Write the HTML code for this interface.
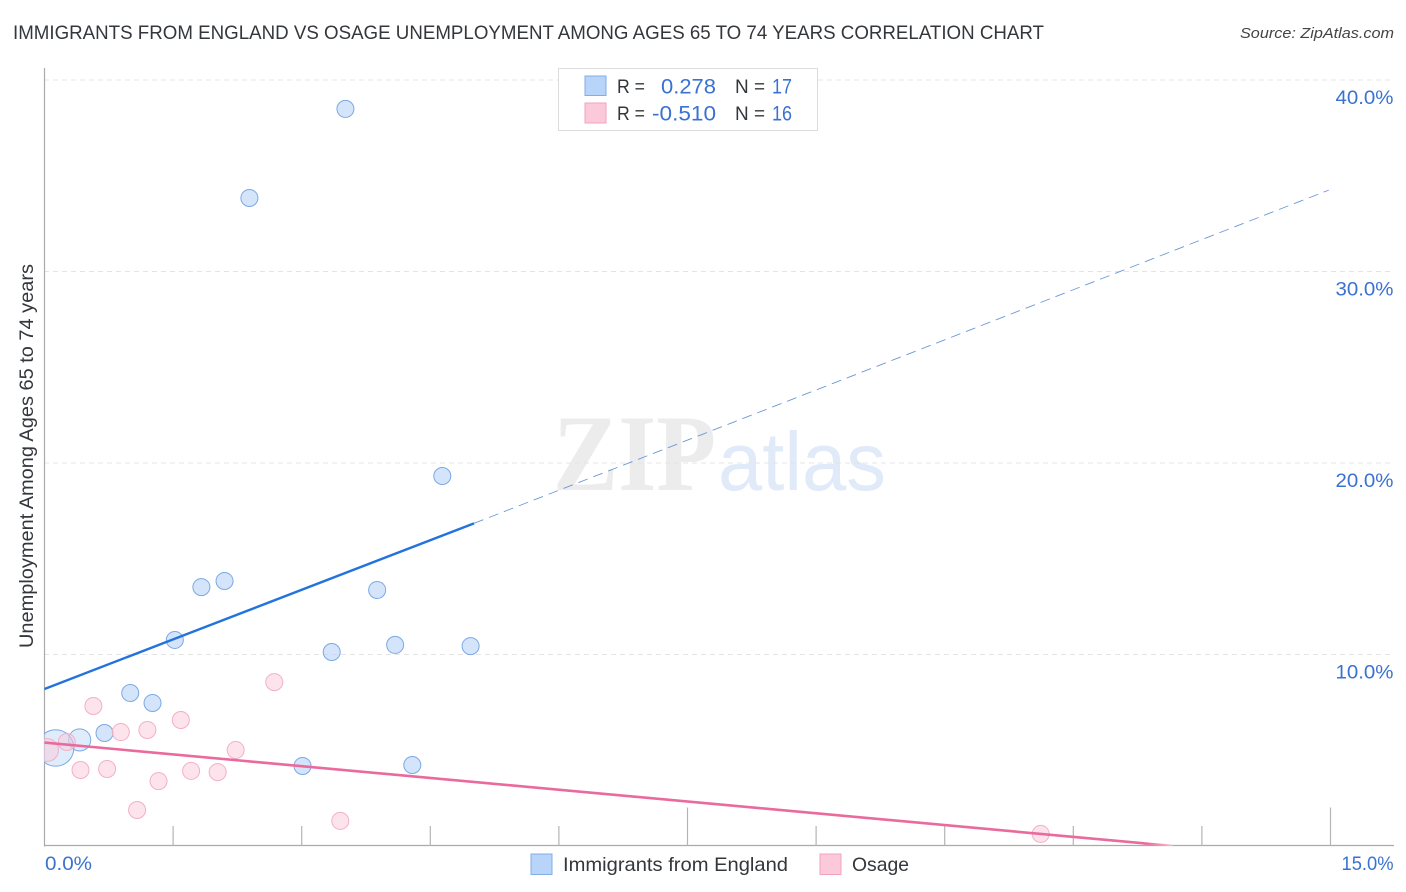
<!DOCTYPE html>
<html lang="en">
<head>
<meta charset="utf-8">
<title>Immigrants from England vs Osage Unemployment Correlation Chart</title>
<style>
html,body{margin:0;padding:0;background:#fff;}
svg{display:block;font-family:"Liberation Sans",sans-serif;}
</style>
</head>
<body>
<svg id="chart" width="1406" height="892" viewBox="0 0 1406 892" xmlns="http://www.w3.org/2000/svg">
  <defs>
    <clipPath id="plot-clip"><rect x="44" y="60" width="1350" height="786"/></clipPath>
    <linearGradient id="pink-fade" gradientUnits="userSpaceOnUse" x1="1040" y1="0" x2="1172" y2="0">
      <stop offset="0" stop-color="#e96a9b"/><stop offset="0.8" stop-color="#e96a9b"/><stop offset="1" stop-color="#f6b6cf"/>
    </linearGradient>
  </defs>
  <text x="13" y="39" font-size="19.5" fill="#33373b" textLength="1031" lengthAdjust="spacingAndGlyphs">IMMIGRANTS FROM ENGLAND VS OSAGE UNEMPLOYMENT AMONG AGES 65 TO 74 YEARS CORRELATION CHART</text>
  <text x="1394" y="38" font-size="15" font-style="italic" fill="#444" text-anchor="end" textLength="154" lengthAdjust="spacingAndGlyphs">Source: ZipAtlas.com</text>

  <g>
    <text x="553" y="490" font-family="'Liberation Serif',serif" font-weight="bold" font-size="109" fill="#ececec" textLength="163" lengthAdjust="spacingAndGlyphs">ZIP</text>
    <text x="718" y="490" font-family="'Liberation Sans',sans-serif" font-size="83" fill="#e0eaf8" textLength="168" lengthAdjust="spacingAndGlyphs">atlas</text>
  </g>

  <g id="grid"></g>
  <g id="axes"></g>
  <g id="points" clip-path="url(#plot-clip)"></g>
  <g id="trend" clip-path="url(#plot-clip)"></g>
  <g id="labels"></g>

  <text transform="translate(33,456) rotate(-90)" font-size="19" fill="#33373b" text-anchor="middle" textLength="384" lengthAdjust="spacingAndGlyphs">Unemployment Among Ages 65 to 74 years</text>

  <g>
    <rect x="558.5" y="68.5" width="259" height="62" fill="#fff" stroke="#dcdcdc" stroke-width="1"/>
    <rect x="585" y="76" width="21" height="19.5" fill="#b8d4f8" stroke="#7faee8"/>
    <rect x="585" y="103" width="21" height="20" fill="#fcc9da" stroke="#f0a3bd"/>
    <g font-size="19.5" fill="#33373b">
      <text x="617" y="93" textLength="28" lengthAdjust="spacingAndGlyphs">R =</text>
      <text x="617" y="120" textLength="28" lengthAdjust="spacingAndGlyphs">R =</text>
      <text x="735" y="93" textLength="30" lengthAdjust="spacingAndGlyphs">N =</text>
      <text x="735" y="120" textLength="30" lengthAdjust="spacingAndGlyphs">N =</text>
    </g>
    <g font-size="21.5" fill="#3a72d0">
      <text x="716" y="93.500" text-anchor="end" textLength="55" lengthAdjust="spacingAndGlyphs">0.278</text>
      <text x="716" y="120.500" text-anchor="end" textLength="64" lengthAdjust="spacingAndGlyphs">-0.510</text>
      <text x="772" y="93.500" textLength="20" lengthAdjust="spacingAndGlyphs">17</text>
      <text x="772" y="120.500" textLength="20" lengthAdjust="spacingAndGlyphs">16</text>
    </g>
  </g>

  <g>
    <rect x="531" y="854" width="21" height="20.500" fill="#b8d4f8" stroke="#7faee8"/>
    <text x="563" y="871" font-size="19.5" fill="#33373b" textLength="225" lengthAdjust="spacingAndGlyphs">Immigrants from England</text>
    <rect x="820" y="854" width="21" height="20.500" fill="#fcc9da" stroke="#f0a3bd"/>
    <text x="852" y="871" font-size="19.5" fill="#33373b" textLength="57" lengthAdjust="spacingAndGlyphs">Osage</text>
  </g>
</svg>
<script>
// Chart data
const englandX = [3.51, 2.39, 4.64, 2.10, 1.83, 3.88, 1.52, 3.35, 4.09, 4.97, 1.00, 1.26, 0.70, 0.41, 0.13, 3.01, 4.29];
const englandY = [38.49, 33.84, 19.32, 13.84, 13.52, 13.37, 10.76, 10.13, 10.50, 10.44, 7.99, 7.47, 5.90, 5.54, 5.12, 4.18, 4.23];
const englandWeight = [1, 1, 1, 1, 1, 1, 1, 1, 1, 1, 1, 1, 1, 1.7, 4.6, 1, 1];
const osageX = [2.68, 0.57, 1.59, 1.20, 0.89, 0.26, 0.03, 2.23, 0.42, 0.73, 1.71, 2.02, 1.33, 1.08, 3.45, 11.62];
const osageY = [8.56, 7.31, 6.58, 6.06, 5.95, 5.43, 5.01, 5.01, 3.97, 4.02, 3.92, 3.86, 3.39, 1.88, 1.31, 0.63];
const osageWeight = [1, 1, 1, 1, 1, 1, 1.8, 1, 1, 1, 1, 1, 1, 1, 1, 1];
const yTicks = [10, 20, 30, 40];
const yTickLabels = ["10.0%", "20.0%", "30.0%", "40.0%"];
const xTicks = [1.5, 3, 4.5, 6, 7.5, 9, 10.5, 12, 13.5, 15];
const xMajorTicks = [7.5, 15];
const englandTrendX = [0, 5.01, 14.98];
const englandTrendY = [8.2, 16.85, 34.25];
const osageTrendX = [0, 13.16];
const osageTrendY = [5.4, 0];

// Axis functions
function xScale(v) { return 44.5 + v * (1330.5 - 44.5) / 15; }
function yScale(v) { return 846 - v * (846 - 80) / 40; }

const NS = 'http://www.w3.org/2000/svg';
function make(tag, parent, attrs) {
  const el = document.createElementNS(NS, tag);
  for (const k in attrs) el.setAttribute(k, attrs[k]);
  parent.appendChild(el);
  return el;
}
const grid = document.getElementById('grid');
const axes = document.getElementById('axes');
const trend = document.getElementById('trend');
const points = document.getElementById('points');
const labels = document.getElementById('labels');

yTicks.forEach(function (t, i) {
  const line = make('line', grid, { x1: 44, x2: 1394, y1: yScale(t), y2: yScale(t), stroke: '#e4e4e4', 'stroke-width': 1, 'stroke-dasharray': '5 4' });
  
  
  const label = make('text', labels, { x: 1393.5, y: yScale(t) + 24, 'font-size': 19.5, fill: '#3a72d0', 'text-anchor': 'end', textLength: 58, lengthAdjust: 'spacingAndGlyphs' });
  label.textContent = yTickLabels[i];
  
  
});

const yAxis = make('line', axes, { x1: 44.5, x2: 44.5, y1: 68, y2: 846.5, stroke: '#aaaaaa', 'stroke-width': 1.2 });


const xAxis = make('line', axes, { x1: 44, x2: 1394, y1: 845.5, y2: 845.5, stroke: '#aaaaaa', 'stroke-width': 1.2 });



xTicks.forEach(function (t) {
  const top = xMajorTicks.indexOf(t) >= 0 ? 807.5 : 826;
  const tick = make('line', axes, { x1: xScale(t), x2: xScale(t), y1: top, y2: 846, stroke: '#b4b4b4', 'stroke-width': 1.2 });
  
  
});

const xLabelMin = make('text', labels, { x: 45, y: 870, 'font-size': 19.5, fill: '#3a72d0', textLength: 47, lengthAdjust: 'spacingAndGlyphs' });
xLabelMin.textContent = '0.0%';


const xLabelMax = make('text', labels, { x: 1393.5, y: 870, 'font-size': 19.5, fill: '#3a72d0', 'text-anchor': 'end', textLength: 52, lengthAdjust: 'spacingAndGlyphs' });
xLabelMax.textContent = '15.0%';



const blueSolid = make('line', trend, { x1: xScale(englandTrendX[0]), y1: yScale(englandTrendY[0]), x2: xScale(englandTrendX[1]), y2: yScale(englandTrendY[1]), stroke: '#2273dc', 'stroke-width': 2.4 });


const blueDash = make('line', trend, { x1: xScale(englandTrendX[1]), y1: yScale(englandTrendY[1]), x2: xScale(englandTrendX[2]), y2: yScale(englandTrendY[2]), stroke: '#6d97d6', 'stroke-width': 0.9, 'stroke-dasharray': '10 6' });



function radius(w) { return 8.5 * Math.sqrt(w); }

englandX.forEach(function (x, i) {
  const c = make('circle', points, { cx: xScale(x), cy: yScale(englandY[i]), r: radius(englandWeight[i]), fill: '#b8d4f8', 'fill-opacity': englandWeight[i] > 1 ? 0.45 : 0.6, stroke: '#7ba8e4', 'stroke-width': 1 });
  
  
});
osageX.forEach(function (x, i) {
  const c = make('circle', points, { cx: xScale(x), cy: yScale(osageY[i]), r: radius(osageWeight[i]), fill: '#fcc9da', 'fill-opacity': 0.5, stroke: '#f3afc6', 'stroke-width': 1 });
  
  
});

const pinkSolid = make('line', trend, { x1: xScale(osageTrendX[0]), y1: yScale(osageTrendY[0]), x2: xScale(osageTrendX[1]), y2: yScale(osageTrendY[1]), stroke: 'url(#pink-fade)', 'stroke-width': 2.6 });


</script>
</body>
</html>
